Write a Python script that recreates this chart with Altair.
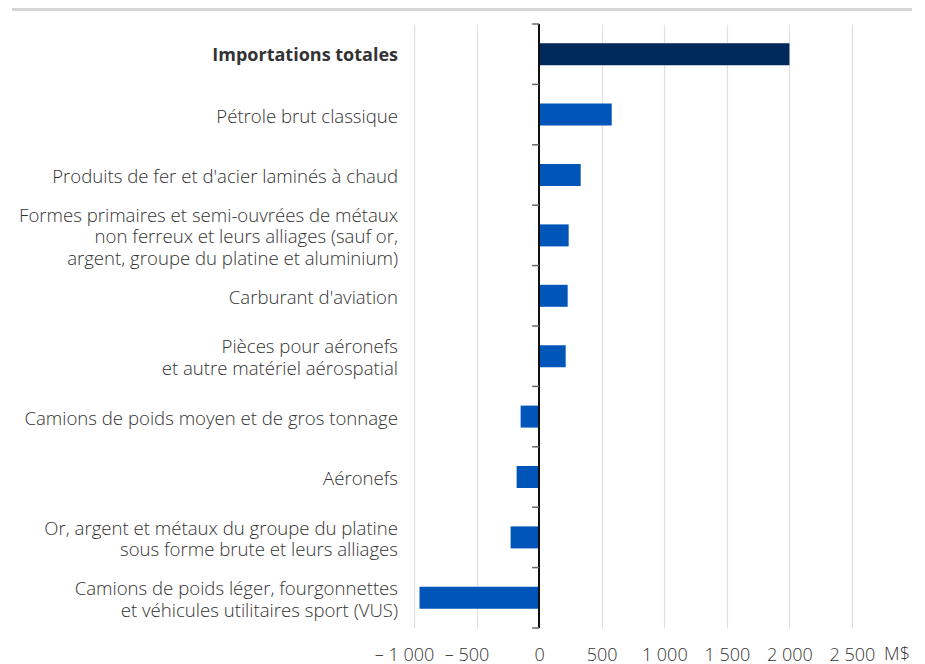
import altair as alt
import pandas as pd

categories = [
    "Importations totales",
    "Pétrole brut classique",
    "Produits de fer et d'acier laminés à chaud",
    "Formes primaires et semi-ouvrées de métaux\nnon ferreux et leurs alliages (sauf or,\nargent, groupe du platine et aluminium)",
    "Carburant d'aviation",
    "Pièces pour aéronefs\net autre matériel aérospatial",
    "Camions de poids moyen et de gros tonnage",
    "Aéronefs",
    "Or, argent et métaux du groupe du platine\nsous forme brute et leurs alliages",
    "Camions de poids léger, fourgonnettes\net véhicules utilitaires sport (VUS)",
]
values = [2000, 580, 332, 236, 228, 212, -148, -180, -228, -956]
is_total = [True, False, False, False, False, False, False, False, False, False]
x_ticks = [-1000, -500, 0, 500, 1000, 1500, 2000, 2500]
unit_label = "M$"

df = pd.DataFrame({"cat": categories, "val": values, "total": is_total})
df["last"] = [False] * (len(df) - 1) + [True]
df["nlines"] = [c.count("\n") + 1 for c in categories]

W, H = 438, 604
FONT = "Open Sans"
TXT = "#333333"
LH = 21.5
DY = 2

yscale = alt.Scale(paddingInner=0, paddingOuter=0)
yenc = alt.Y("cat:N", sort=categories, axis=None, scale=yscale)
xscale = alt.Scale(domain=[-1000, 2500], nice=False)

bars = alt.Chart(df).mark_bar(size=22).encode(
    x=alt.X("val:Q", scale=xscale,
            axis=alt.Axis(values=x_ticks, grid=True, gridColor="#e0e0e0", gridWidth=1.2,
                          domain=False, ticks=False, labelPadding=18, title=None,
                          labelFlush=False, labelOverlap=False,
                          labelOffset={"condition": {"test": "datum.value < 0", "value": -10}, "value": 0},
                          labelFont=FONT, labelFontSize=18, labelColor=TXT,
                          labelFontWeight=300,
                          labelExpr="(datum.value < 0 ? '– ' : '') + replace(format(abs(datum.value), ',d'), ',', ' ')")),
    y=yenc,
    color=alt.condition("datum.total", alt.value("#002a5c"), alt.value("#0055b8")),
)

zero = alt.Chart(df).mark_rule(color="#111111", strokeWidth=1.5).encode(
    x=alt.datum(0), y=alt.value(0), y2=alt.value(H)
)

ticks_top = alt.Chart(df).mark_rule(color="#666666", strokeWidth=1.5).encode(
    x=alt.datum(-56), x2=alt.datum(0),
    y=alt.Y("cat:N", sort=categories, bandPosition=0, axis=None, scale=yscale),
)
ticks_bottom = alt.Chart(df).transform_filter("datum.last").mark_rule(color="#666666", strokeWidth=1.5).encode(
    x=alt.datum(-56), x2=alt.datum(0),
    y=alt.Y("cat:N", sort=categories, bandPosition=1, axis=None, scale=yscale),
)

label_layers = []
label_layers.append(
    alt.Chart(df).transform_filter("datum.total").mark_text(
        align="right", baseline="middle", lineBreak="\n", dy=DY,
        font=FONT, fontSize=18, color=TXT, lineHeight=LH, fontWeight="bold").encode(
        x=alt.value(-16), y=yenc, text="cat:N")
)
for n in (1, 2, 3):
    label_layers.append(
        alt.Chart(df).transform_filter(f"!datum.total && datum.nlines == {n}").mark_text(
            align="right", baseline="middle", lineBreak="\n", dy=DY - (n - 1) * LH / 2,
            font=FONT, fontSize=18.6, color=TXT, lineHeight=LH, fontWeight=300).encode(
            x=alt.value(-16), y=yenc, text="cat:N")
    )

unit = alt.Chart(pd.DataFrame({"t": [unit_label]})).mark_text(
    align="center", baseline="middle", font=FONT, fontSize=18, color=TXT, fontWeight=300
).encode(x=alt.value(483), y=alt.value(H + 27), text="t:N")

band = alt.Chart(pd.DataFrame({"t": [0]})).mark_rect(color="#d4d6d5").encode(
    x=alt.value(-402), x2=alt.value(499), y=alt.value(-24), y2=alt.value(-13)
)

chart = alt.layer(band, bars, zero, ticks_top, ticks_bottom, *label_layers, unit).properties(
    width=W, height=H,
    autosize=alt.AutoSizeParams(type="none"),
    padding={"left": 406, "top": 16, "right": 60, "bottom": 40},
).configure_view(stroke=None)

chart.save("out.html", embed_options={"renderer": "svg", "actions": False})
